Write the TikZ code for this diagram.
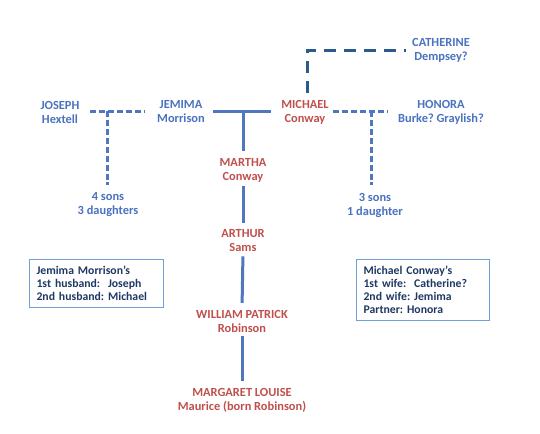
\documentclass[tikz,border=0pt]{standalone}
\usepackage{fontspec}
\setmainfont{Carlito}
\usetikzlibrary{calc}
\frenchspacing
\definecolor{nameblue}{HTML}{4A72C0}
\definecolor{namered}{HTML}{C0504D}
\definecolor{linebl}{HTML}{4F76BF}
\definecolor{darkdash}{HTML}{2B5A8C}
\definecolor{boxtext}{HTML}{1F3864}
\definecolor{boxline}{HTML}{6FA0D8}
\tikzset{
  person/.style={align=center, inner sep=0pt, font=\bfseries\fontsize{9.3}{10.5}\selectfont},
  bluep/.style={person, text=nameblue},
  redp/.style={person, text=namered},
  solidline/.style={draw=linebl, line width=2.25pt},
  lightdash/.style={draw=linebl, line width=2.25pt, dash pattern=on 4.5pt off 2.2pt},
  darkdashed/.style={draw=darkdash, line width=2.25pt, dash pattern=on 9pt off 6pt},
  notebox/.style={draw=boxline, line width=0.8pt, anchor=north west, align=left,
    text=boxtext, inner xsep=5.25pt, inner ysep=0pt,
    font=\bfseries\fontsize{8.8}{9.75}\selectfont\frenchspacing}
}
\begin{document}
\begin{tikzpicture}[x=0.75pt, y=-0.75pt]
\useasboundingbox[fill=white] (0,0) rectangle (540,433);
% people
\node[bluep] (joseph) at (60,112) {JOSEPH\\Hextell};
\node[bluep] (jemima) at (181,112) {JEMIMA\\Morrison};
\node[redp] (michael) at (305,112) {MICHAEL\\Conway};
\node[bluep] (honora) at (441,112) {HONORA\\Burke? Graylish?};
\node[bluep] (catherine) at (441,50) {CATHERINE\\Dempsey?};
\node[bluep] (sons1) at (108,205) {4 sons\\3 daughters};
\node[bluep] (sons2) at (375,205) {3 sons\\1 daughter};
\node[redp] (martha) at (243,170) {MARTHA\\Conway};
\node[redp] (arthur) at (243,241) {ARTHUR\\Sams};
\node[redp] (william) at (242,321) {WILLIAM PATRICK\\Robinson};
\node[redp] (margaret) at (242,400) {MARGARET LOUISE\\Maurice (born Robinson)};
% notes
\node[notebox, text width=90pt, minimum width=100.5pt, minimum height=36pt] (note1) at (29,259)
  {Jemima Morrison’s\\1st husband:\ \ Joseph\\2nd husband: Michael};
\node[notebox, text width=89.25pt, minimum width=99.75pt, minimum height=45.75pt] (note2) at (356,259)
  {Michael Conway’s\\1st wife:\ \ Catherine?\\2nd wife: Jemima\\Partner: Honora};
% marriage lines
\coordinate (jjl) at (90,111);
\coordinate (jjr) at (145,111);
\coordinate (jjd) at (107,111);
\coordinate (jje) at (107,185);
\coordinate (jml) at (213,111);
\coordinate (jmr) at (271,111);
\coordinate (jmd) at (243,111);
\coordinate (mhl) at (333,111);
\coordinate (mhr) at (388,111);
\coordinate (mhd) at (371,111);
\coordinate (mhe) at (371,185);
\coordinate (mcs) at (307,93);
\coordinate (mcc) at (307,50);
\coordinate (mce) at (406,50);
\draw[lightdash] (jjl) -- (jjr);
\draw[lightdash] (jjd) -- (jje);
\draw[solidline] (jml) -- (jmr);
\draw[solidline, shorten >=5pt] (jmd) -- (jmd |- martha.north);
\draw[lightdash] (mhl) -- (mhr);
\draw[lightdash] (mhd) -- (mhe);
\draw[darkdashed] (mcs) -- (mcc) -- (mce);
% descent
\draw[solidline, shorten <=3pt, shorten >=5pt] (martha.south) -- (arthur.north);
\draw[solidline, shorten <=3pt, shorten >=5pt] (arthur.south) -- (william.north);
\draw[solidline, shorten <=3pt, shorten >=5pt] (william.south) -- (margaret.north);
\end{tikzpicture}
\end{document}
